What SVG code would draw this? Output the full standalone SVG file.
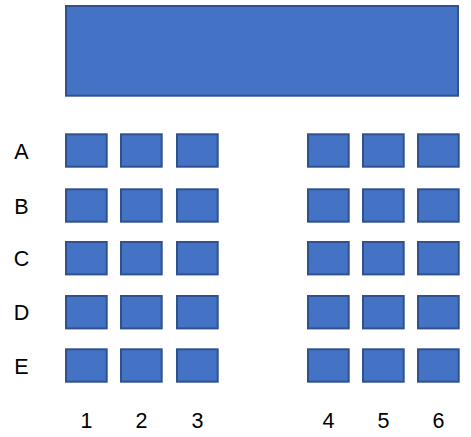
<svg xmlns="http://www.w3.org/2000/svg" width="471" height="437" viewBox="0 0 471 437">
<style>
.b{fill:#4472C4;stroke:#2F528F;stroke-width:2}
.t{font-family:"Liberation Sans",Arial,sans-serif;font-size:21.5px;fill:#000;text-anchor:middle}
</style>
<rect width="471" height="437" fill="#fff"/>
<g id="stage"><rect class="b" x="66" y="6" width="392" height="89.7"/></g>
<g id="seats">
<g id="rowA">
<rect class="b" x="66" y="134.3" width="40.7" height="32.4"/>
<rect class="b" x="121" y="134.3" width="40.7" height="32.4"/>
<rect class="b" x="177" y="134.3" width="40.7" height="32.4"/>
<rect class="b" x="308" y="134.3" width="40.7" height="32.4"/>
<rect class="b" x="363" y="134.3" width="40.7" height="32.4"/>
<rect class="b" x="418" y="134.3" width="40.7" height="32.4"/>
</g>
<g id="rowB">
<rect class="b" x="66" y="189.3" width="40.7" height="32.4"/>
<rect class="b" x="121" y="189.3" width="40.7" height="32.4"/>
<rect class="b" x="177" y="189.3" width="40.7" height="32.4"/>
<rect class="b" x="308" y="189.3" width="40.7" height="32.4"/>
<rect class="b" x="363" y="189.3" width="40.7" height="32.4"/>
<rect class="b" x="418" y="189.3" width="40.7" height="32.4"/>
</g>
<g id="rowC">
<rect class="b" x="66" y="242" width="40.7" height="32.4"/>
<rect class="b" x="121" y="242" width="40.7" height="32.4"/>
<rect class="b" x="177" y="242" width="40.7" height="32.4"/>
<rect class="b" x="308" y="242" width="40.7" height="32.4"/>
<rect class="b" x="363" y="242" width="40.7" height="32.4"/>
<rect class="b" x="418" y="242" width="40.7" height="32.4"/>
</g>
<g id="rowD">
<rect class="b" x="66" y="296" width="40.7" height="32.4"/>
<rect class="b" x="121" y="296" width="40.7" height="32.4"/>
<rect class="b" x="177" y="296" width="40.7" height="32.4"/>
<rect class="b" x="308" y="296" width="40.7" height="32.4"/>
<rect class="b" x="363" y="296" width="40.7" height="32.4"/>
<rect class="b" x="418" y="296" width="40.7" height="32.4"/>
</g>
<g id="rowE">
<rect class="b" x="66" y="349.3" width="40.7" height="32.4"/>
<rect class="b" x="121" y="349.3" width="40.7" height="32.4"/>
<rect class="b" x="177" y="349.3" width="40.7" height="32.4"/>
<rect class="b" x="308" y="349.3" width="40.7" height="32.4"/>
<rect class="b" x="363" y="349.3" width="40.7" height="32.4"/>
<rect class="b" x="418" y="349.3" width="40.7" height="32.4"/>
</g>
</g>
<g id="rowLabels">
<text class="t" x="21.5" y="158.5">A</text>
<text class="t" x="21.5" y="213.5">B</text>
<text class="t" x="21.5" y="266">C</text>
<text class="t" x="21.5" y="320">D</text>
<text class="t" x="21.5" y="373.5">E</text>
</g>
<g id="colLabels">
<text class="t" x="86.5" y="427.5">1</text>
<text class="t" x="141.5" y="427.5">2</text>
<text class="t" x="197.5" y="427.5">3</text>
<text class="t" x="328.5" y="427.5">4</text>
<text class="t" x="383.5" y="427.5">5</text>
<text class="t" x="438.5" y="427.5">6</text>
</g>
<g id="connectors"/>
</svg>
